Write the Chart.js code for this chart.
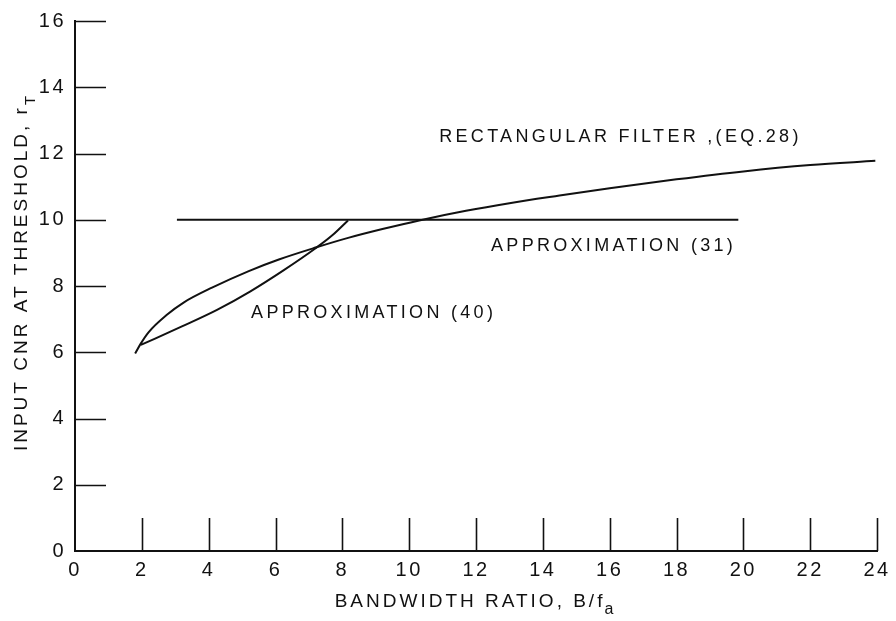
<!DOCTYPE html>
<html>
<head>
<meta charset="utf-8">
<script src="https://cdn.jsdelivr.net/npm/chart.js@4.4.0/dist/chart.umd.min.js"></script>
<style>
html, body { margin: 0; padding: 0; background: #fff; }
#wrap { width: 896px; height: 621px; }
</style>
</head>
<body>
<div id="wrap"><canvas id="chart"></canvas></div>
<script>
// axis ticks
var xTicks = [0, 2, 4, 6, 8, 10, 12, 14, 16, 18, 20, 22, 24];
var yTicks = [0, 2, 4, 6, 8, 10, 12, 14, 16];

// rectangular filter, eq. 28
var rectX = [1.8, 1.95, 2.2, 2.75, 3.25, 4.1, 5.2, 6.1, 7.2, 8.2, 9.2, 10.3, 11.7, 13, 14.5, 16, 18, 20, 22, 23.95];
var rectY = [5.96, 6.23, 6.6, 7.13, 7.5, 7.95, 8.45, 8.8, 9.16, 9.46, 9.72, 9.98, 10.27, 10.5, 10.73, 10.95, 11.22, 11.46, 11.65, 11.78];

// approximation (40)
var approx40X = [1.97, 3.2, 4.25, 5.25, 6.25, 7.2, 7.7, 8.17];
var approx40Y = [6.22, 6.78, 7.28, 7.84, 8.48, 9.14, 9.53, 9.98];

// approximation (31)
var approx31X = [3.05, 19.85];
var approx31Y = [10, 10];

function pts(xs, ys) {
	var out = [];
	for (var i = 0; i < xs.length; i++) out.push({x: xs[i], y: ys[i]});
	return out;
}

var FONT = "'Liberation Sans', Arial, sans-serif";

// inward tick marks, axis titles with subscripts, curve labels
var drawingPlugin = {
	id: 'drawing',
	beforeDraw: function(chart) {
		chart.ctx.letterSpacing = '2.5px';
	},
	afterDraw: function(chart) {
		var ctx = chart.ctx;
		var xs = chart.scales.x, ys = chart.scales.y;
		var area = chart.chartArea;
		ctx.save();
		ctx.strokeStyle = '#111';
		ctx.lineWidth = 1.6;
		ctx.beginPath();
		yTicks.forEach(function(v) {
			if (v == 0) return;
			var py = Math.round(ys.getPixelForValue(v)) + 0.5;
			ctx.moveTo(area.left, py);
			ctx.lineTo(area.left + 31, py);
		});
		xTicks.forEach(function(v) {
			if (v == 0) return;
			var px = Math.round(xs.getPixelForValue(v)) + 0.5;
			ctx.moveTo(px, area.bottom);
			ctx.lineTo(px, area.bottom - 33);
		});
		ctx.stroke();

		ctx.fillStyle = '#111';
		ctx.letterSpacing = '3.3px';
		ctx.textBaseline = 'middle';
		ctx.textAlign = 'left';
		ctx.font = '18px ' + FONT;
		var notes = [
			['RECTANGULAR FILTER ,(EQ.28)', 10.9, 12.5],
			['APPROXIMATION (31)', 12.45, 9.22],
			['APPROXIMATION (40)', 5.27, 7.19]
		];
		notes.forEach(function(n) {
			ctx.fillText(n[0], xs.getPixelForValue(n[1]), ys.getPixelForValue(n[2]));
		});

		// x title
		ctx.letterSpacing = '3px';
		var main = 'BANDWIDTH RATIO, B/f';
		ctx.font = '19px ' + FONT;
		var w1 = ctx.measureText(main).width;
		ctx.font = '16px ' + FONT;
		var w2 = ctx.measureText('a').width;
		var cx = (area.left + area.right) / 2;
		var sx = cx - (w1 + w2) / 2;
		ctx.textBaseline = 'alphabetic';
		ctx.font = '19px ' + FONT;
		ctx.fillText(main, sx, 607);
		ctx.font = '16px ' + FONT;
		ctx.fillText('a', sx + w1 - 1, 614);

		// y title
		main = 'INPUT CNR AT THRESHOLD, r';
		ctx.font = '19px ' + FONT;
		w1 = ctx.measureText(main).width;
		ctx.font = '15px ' + FONT;
		w2 = ctx.measureText('T').width;
		ctx.translate(27, 272);
		ctx.rotate(-Math.PI / 2);
		sx = -(w1 + w2) / 2;
		ctx.font = '19px ' + FONT;
		ctx.fillText(main, sx, 0);
		ctx.font = '15px ' + FONT;
		ctx.fillText('T', sx + w1, 8);
		ctx.restore();
	}
};

var lineStyle = {
	showLine: true,
	borderColor: '#111',
	borderWidth: 2,
	pointRadius: 0,
	fill: false,
	cubicInterpolationMode: 'monotone'
};

var ctx = document.getElementById('chart').getContext('2d');
var chart = new Chart(ctx, {
	type: 'scatter',
	data: {
		datasets: [
			Object.assign({label: 'Rectangular filter (Eq. 28)', data: pts(rectX, rectY)}, lineStyle),
			Object.assign({label: 'Approximation (40)', data: pts(approx40X, approx40Y)}, lineStyle),
			Object.assign({label: 'Approximation (31)', data: pts(approx31X, approx31Y)}, lineStyle)
		]
	},
	options: {
		responsive: true,
		maintainAspectRatio: false,
		animation: false,
		layout: { padding: { top: 17, right: 19, left: 0, bottom: 0 } },
		plugins: {
			legend: { display: false },
			tooltip: { enabled: false }
		},
		scales: {
			x: {
				type: 'linear',
				min: 0,
				max: 24,
				afterBuildTicks: function(axis) { axis.ticks = xTicks.map(function(v) { return {value: v}; }); },
				afterFit: function(axis) { axis.height = 70; },
				grid: { display: false, drawTicks: false },
				border: { display: true, color: '#111', width: 2 },
				ticks: { color: '#111', padding: 7, maxRotation: 0, autoSkip: false, font: { family: FONT, size: 20 } }
			},
			y: {
				type: 'linear',
				min: 0,
				max: 16,
				afterBuildTicks: function(axis) { axis.ticks = yTicks.map(function(v) { return {value: v}; }); },
				afterFit: function(axis) { axis.width = 75; },
				grid: { display: false, drawTicks: false },
				border: { display: true, color: '#111', width: 2 },
				ticks: { color: '#111', padding: 9, autoSkip: false, font: { family: FONT, size: 20 } }
			}
		}
	},
	plugins: [drawingPlugin]
});
</script>
</body>
</html>
